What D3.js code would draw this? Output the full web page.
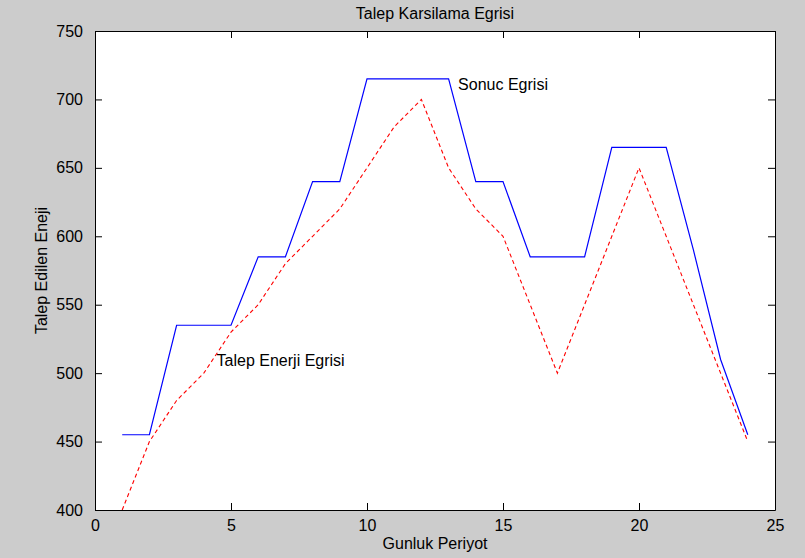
<!DOCTYPE html>
<html>
<head>
<meta charset="utf-8">
<script src="https://cdn.jsdelivr.net/npm/d3@7"></script>
<style>
  body { margin: 0; background: #cccccc; }
  text { font-family: "Liberation Sans", Arial, sans-serif; font-size: 16px; fill: #000; }
</style>
</head>
<body>
<script>
const width = 805
const height = 558

// gunluk periyot (saat)
const periods = d3.range(1, 25)
// talep edilen enerji (kirmizi, kesikli)
const demand = [400, 450, 480, 500, 530, 550, 580, 600, 620, 650, 680, 700,
                650, 620, 600, 550, 500, 550, 600, 650, 600, 550, 500, 450]
// sonuc egrisi (mavi)
const result = [455, 455, 535, 535, 535, 585, 585, 640, 640, 715, 715, 715,
                715, 640, 640, 585, 585, 585, 665, 665, 665, 590, 510, 455]

const xTicks = [0, 5, 10, 15, 20, 25]
const yTicks = [400, 450, 500, 550, 600, 650, 700, 750]

const margin = {top: 31, right: 30, bottom: 48, left: 95}

const svg = d3.select("body").append("svg")
    .attr("width", width)
    .attr("height", height)

const x = d3.scaleLinear().domain([0, 25]).range([margin.left, width - margin.right])
const y = d3.scaleLinear().domain([400, 750]).range([height - margin.bottom, margin.top])

svg.append("rect")
    .attr("x", x(0)).attr("y", y(750))
    .attr("width", x(25) - x(0)).attr("height", y(400) - y(750))
    .attr("fill", "#fff")

const clip = svg.append("clipPath").attr("id", "clip")
  .append("rect")
    .attr("x", x(0)).attr("y", y(750))
    .attr("width", x(25) - x(0)).attr("height", y(400) - y(750))

const line = d3.line()
    .x(function (d) { return x(d[0]) })
    .y(function (d) { return y(d[1]) })

svg.append("path")
    .datum(periods.map(function (p, i) { return [p, demand[i]] }))
    .attr("clip-path", "url(#clip)")
    .attr("d", line)
    .attr("fill", "none")
    .attr("stroke", "#ff0000")
    .attr("stroke-width", 1.1)
    .attr("stroke-dasharray", "4,3")

svg.append("path")
    .datum(periods.map(function (p, i) { return [p, result[i]] }))
    .attr("clip-path", "url(#clip)")
    .attr("d", line)
    .attr("fill", "none")
    .attr("stroke", "#0000ff")
    .attr("stroke-width", 1.2)

// axes, matlab style: ticks inward on all four sides
const tickLen = 7
const axis = function (g) {
  g.selectAll(".domain").attr("stroke", "#000")
  g.selectAll(".tick line").attr("stroke", "#000")
}

svg.append("g")
    .attr("transform", `translate(0,${y(400)})`)
    .call(d3.axisBottom(x).tickValues(xTicks).tickSizeInner(-tickLen).tickSizeOuter(0).tickPadding(10))
    .call(axis)
    .call(function (g) { g.selectAll("text").attr("font-size", 16).attr("font-family", null) })

svg.append("g")
    .attr("transform", `translate(0,${y(750)})`)
    .call(d3.axisTop(x).tickValues(xTicks).tickSizeInner(-tickLen).tickSizeOuter(0).tickFormat(""))
    .call(axis)

svg.append("g")
    .attr("transform", `translate(${x(0)},0)`)
    .call(d3.axisLeft(y).tickValues(yTicks).tickSizeInner(-tickLen).tickSizeOuter(0).tickPadding(12))
    .call(axis)
    .call(function (g) { g.selectAll("text").attr("font-size", 16).attr("font-family", null) })

svg.append("g")
    .attr("transform", `translate(${x(25)},0)`)
    .call(d3.axisRight(y).tickValues(yTicks).tickSizeInner(-tickLen).tickSizeOuter(0).tickFormat(""))
    .call(axis)

// labels
svg.append("text")
    .attr("x", (x(0) + x(25)) / 2).attr("y", 19)
    .attr("text-anchor", "middle")
    .text("Talep Karsilama Egrisi")

svg.append("text")
    .attr("x", (x(0) + x(25)) / 2).attr("y", 549)
    .attr("text-anchor", "middle")
    .text("Gunluk Periyot")

svg.append("text")
    .attr("transform", `translate(47,${(y(400) + y(750)) / 2}) rotate(-90)`)
    .attr("text-anchor", "middle")
    .text("Talep Edilen Eneji")

svg.append("text")
    .attr("x", x(13.35)).attr("y", y(711))
    .attr("dy", "0.35em")
    .text("Sonuc Egrisi")

svg.append("text")
    .attr("x", x(4.47)).attr("y", y(509))
    .attr("dy", "0.35em")
    .text("Talep Enerji Egrisi")
</script>
</body>
</html>
